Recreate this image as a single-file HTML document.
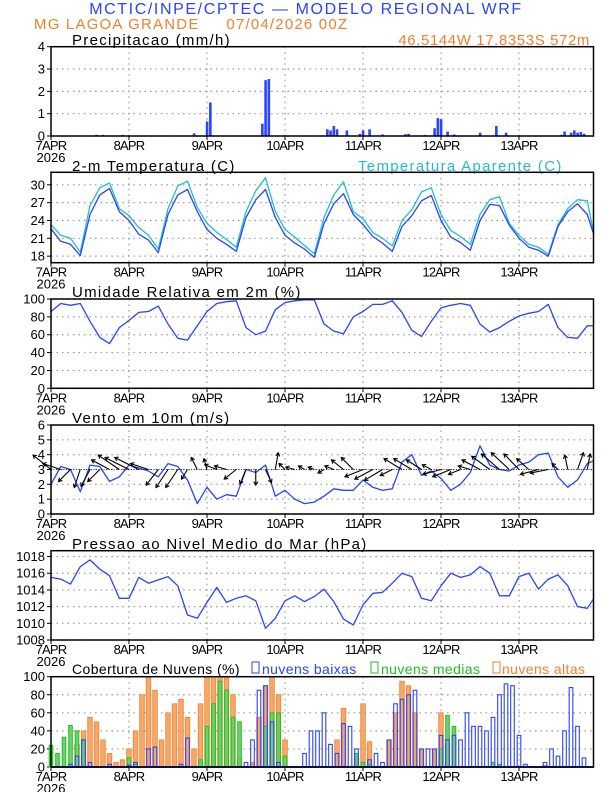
<!DOCTYPE html>
<html><head><meta charset="utf-8"><style>
body{margin:0;background:#fff;}
svg{display:block;font-family:"Liberation Sans",sans-serif;}
.tt{font-size:15px;letter-spacing:1.3px;}
.lg{font-size:14px;letter-spacing:0.4px;}
</style></head><body>
<svg id="chart" width="612" height="792" viewBox="0 0 612 792" xmlns="http://www.w3.org/2000/svg">
<text x="306" y="14" text-anchor="middle" font-size="16" letter-spacing="1.6" fill="#2a44ff">MCTIC/INPE/CPTEC — MODELO REGIONAL WRF</text>
<text x="34" y="29" font-size="15" letter-spacing="1.2" fill="#f08030" xml:space="preserve">MG LAGOA GRANDE     07/04/2026 00Z</text>
<text x="590" y="45" text-anchor="end" font-size="15" letter-spacing="0.6" fill="#f08030">46.5144W 17.8353S 572m</text>
<text class="tt" x="72" y="45">Precipitacao (mm/h)</text>
<text class="tt" x="72" y="171">2-m Temperatura (C)</text>
<text class="tt" x="358" y="171" fill="#20c0c8">Temperatura Aparente (C)</text>
<text class="tt" x="72" y="297">Umidade Relativa em 2m (%)</text>
<text class="tt" x="72" y="423">Vento em 10m (m/s)</text>
<text class="tt" x="72" y="549">Pressao ao Nivel Medio do Mar (hPa)</text>
<text class="lg" x="72" y="674" letter-spacing="0.5">Cobertura de Nuvens (%)</text>
<rect x="252" y="662" width="7" height="11" fill="none" stroke="#2a44ff"/>
<text class="lg" x="262" y="674" fill="#2a44ff">nuvens baixas</text>
<rect x="371" y="662" width="7" height="11" fill="none" stroke="#20c020"/>
<text class="lg" x="381" y="674" fill="#20c020">nuvens medias</text>
<rect x="493" y="662" width="7" height="11" fill="none" stroke="#f08030"/>
<text class="lg" x="502" y="674" fill="#f08030">nuvens altas</text>
</svg>
<script>
const dayLabels=["7APR","8APR","9APR","10APR","11APR","12APR","13APR"];
const hours3=[0,3,6,9,12,15,18,21,24,27,30,33,36,39,42,45,48,51,54,57,60,63,66,69,72,75,78,81,84,87,90,93,96,99,102,105,108,111,114,117,120,123,126,129,132,135,138,141,144,147,150,153,156,159,162,165,167];
const precipHours=[14,16,22,44,48,49,65,66,67,85,86,87,88,91,95,96,98,102,109,110,115,118,119,120,122,124,132,137,140,157,158,160,161,162,163,164];
const precipVals=[0.05,0.05,0.05,0.12,0.65,1.5,0.55,2.5,2.55,0.3,0.25,0.45,0.3,0.25,0.1,0.25,0.3,0.07,0.08,0.1,0.05,0.35,0.8,0.75,0.2,0.07,0.15,0.45,0.15,0.05,0.2,0.15,0.25,0.15,0.18,0.1];
const tempVals=[22.6,20.5,20.0,18.1,25.0,28.3,29.4,25.5,24.0,21.7,20.7,18.6,25.0,28.3,29.2,25.5,22.5,21.0,20.0,18.8,24.5,27.5,29.2,24.5,21.5,20.2,19.2,17.8,23.5,26.8,28.5,25.0,23.3,21.3,20.2,18.8,23.0,24.8,27.3,28.2,24.0,21.2,20.3,19.0,24.0,26.7,26.5,23.2,21.0,19.5,19.0,18.0,23.0,25.5,26.8,25.0,21.6];
const apparentVals=[23.3,21.5,21.0,18.7,26.5,29.5,30.3,26.0,24.8,22.8,21.5,19.2,26.0,29.8,30.6,26.2,23.5,22.0,20.8,19.5,25.5,29.0,31.2,25.5,22.5,21.2,19.8,18.4,24.5,28.3,30.5,25.5,24.3,22.0,21.0,19.7,24.0,25.8,28.8,29.5,25.0,22.3,21.3,20.0,25.0,27.5,28.0,23.5,21.5,20.0,19.5,18.3,23.3,26.0,27.5,27.3,21.8];
const rhVals=[86,95,93,95,75,57,50,68,76,85,86,92,72,56,54,70,86,95,97,98,68,60,64,88,96,98,99,99,72,64,61,80,86,94,94,98,85,65,58,75,90,93,95,93,72,63,68,75,81,84,86,94,68,57,56,70,70];
const windSpeed=[2.0,3.2,3.0,1.5,3.3,3.2,2.2,2.5,3.3,3.1,2.9,2.5,3.4,3.2,2.3,0.7,1.8,1.0,1.3,1.2,3.0,2.8,3.3,1.2,1.6,1.0,0.7,0.8,1.2,1.7,1.6,1.6,2.3,1.8,1.6,1.7,3.5,4.0,2.6,2.9,2.4,1.6,2.0,2.8,4.6,3.3,3.0,2.9,3.3,3.5,4.0,4.1,2.5,1.8,2.3,3.4,3.6];
const windU=[-3,-3,-2,-1,-1.5,-2,-3,-3.5,-4,-4,-3,-2,-2,-2,-1,-1,-0.5,-2,-2,-2,-1,0,1,0.5,-1,-1.5,-1,-1,-1,-1.5,-2,-2,-3,-3,-3,-2,-3,-3,-2.5,-1.5,-3,-3,-2,-2,-3,-3,-3,-3,-2.5,-2,-3,-3,-1,-0.5,1,0.5];
const windV=[1.2,0.5,-1,-1.5,-1.4,-1,0.8,1.2,1,1,0.5,-1.3,-1.5,-1.5,-0.8,1,0.9,0.4,0.3,-0.8,-1.2,-1.3,-1.1,1.4,0.5,0.2,0.3,0.2,-0.3,0.3,0.8,1,-0.6,-0.8,-0.9,-0.5,0.9,0.9,0.8,0.4,-0.4,-0.6,-0.4,0.3,0.8,1.1,1.3,1.4,1.3,0.9,-0.4,-0.3,0.5,1.2,1.4,1.3];
const pressVals=[1015.5,1015.3,1014.7,1016.8,1017.6,1016.5,1015.7,1013.0,1013.0,1015.5,1014.8,1015.2,1015.6,1014.5,1011.0,1010.6,1012.5,1014.3,1012.5,1013.0,1013.3,1012.7,1009.4,1010.6,1012.7,1013.3,1012.6,1013.2,1014.1,1012.6,1010.5,1009.8,1012.2,1013.6,1013.7,1014.8,1016.0,1015.6,1013.0,1012.7,1014.5,1016.0,1015.5,1015.8,1016.8,1016.0,1013.3,1013.3,1015.6,1016.0,1014.1,1015.3,1015.8,1014.5,1012.0,1011.8,1013.0];
const cloudHours=[0,2,4,6,8,10,12,14,16,18,20,22,24,26,28,30,32,34,36,38,40,42,44,46,48,50,52,54,56,58,60,62,64,66,68,70,72,74,76,78,80,82,84,86,88,90,92,94,96,98,100,102,104,106,108,110,112,114,116,118,120,122,124,126,128,130,132,134,136,138,140,142,144,146,148,150,152,154,156,158,160,162,164,166];
const cloudHigh=[0,0,0,0,25,40,55,50,30,15,5,8,20,40,80,100,85,30,60,70,75,55,20,70,100,100,100,100,80,10,0,5,55,90,100,80,30,0,0,0,0,0,0,0,30,65,0,10,70,28,0,0,30,60,95,90,60,20,0,20,60,25,0,0,0,0,0,0,0,0,0,0,0,0,0,0,2,0,0,0,0,0,0,0];
const cloudMid=[24,15,33,46,40,30,0,0,0,0,0,0,10,3,0,0,0,0,0,0,0,0,0,8,45,70,95,85,55,50,0,0,0,45,60,60,12,0,0,0,0,0,0,0,0,0,0,15,5,3,0,0,0,0,0,0,0,0,0,0,20,57,45,0,0,0,0,0,5,3,0,0,0,0,0,0,0,0,0,0,0,0,0,0];
const cloudLow=[0,0,0,3,12,30,5,0,0,3,0,0,2,5,0,20,22,0,0,0,3,32,0,0,0,0,0,0,0,0,5,30,85,90,50,5,0,0,0,15,40,40,60,25,15,48,45,20,0,8,15,5,30,70,75,80,85,20,20,20,35,30,35,30,60,45,45,40,55,80,92,90,35,3,0,0,5,20,12,40,88,45,10,0];

const NS='http://www.w3.org/2000/svg';
const svg=document.getElementById('chart');
const X0=51,X1=593.5,PX=3.25;
function x(h){return X0+h*PX;}
function mk(tag,attrs,parent){const e=document.createElementNS(NS,tag);for(const k in attrs)e.setAttribute(k,attrs[k]);(parent||svg).appendChild(e);return e;}
function yScale(p){return v=>p.bottom-(v-p.min)/(p.max-p.min)*(p.bottom-p.top);}
const panels={
 precip:{top:46.7,bottom:136,min:0,max:4,ticks:[0,1,2,3,4]},
 temp:{top:172.3,bottom:262.7,min:16.9,max:32.1,ticks:[18,21,24,27,30]},
 rh:{top:299,bottom:388.3,min:0,max:100,ticks:[0,20,40,60,80,100]},
 wind:{top:425,bottom:514,min:0,max:6,ticks:[0,1,2,3,4,5,6]},
 press:{top:550.7,bottom:640,min:1008,max:1018.7,ticks:[1008,1010,1012,1014,1016,1018]},
 cloud:{top:676.7,bottom:767,min:0,max:100,ticks:[0,20,40,60,80,100]}
};
function drawAxes(key){
 const p=panels[key],ys=yScale(p);
 const g=mk('g',{});
 
 
 p.ticks.forEach(t=>{
  const y=ys(t);
  const gl=mk('line',{x1:X0,x2:X1,y1:y,y2:y,stroke:'#999','stroke-dasharray':'1.5,4','stroke-width':1.2},g);
  
  
  const tk=mk('line',{x1:X0-4,x2:X0,y1:y,y2:y,stroke:'#000'},g);
  
  
  const tl=mk('text',{x:X0-6,y:y+4.5,'text-anchor':'end','font-size':13},g);
  tl.textContent=t;
  
  
 });
 dayLabels.forEach((d,i)=>{
  const xx=x(i*24);
  if(i>0){const vl=mk('line',{x1:xx,x2:xx,y1:p.top,y2:p.bottom,stroke:'#999','stroke-dasharray':'1.5,4','stroke-width':1.2},g);
   
   }
  const tk=mk('line',{x1:xx,x2:xx,y1:p.bottom,y2:p.bottom+4,stroke:'#000'},g);
  
  
  const tl=mk('text',{x:xx,y:p.bottom+14,'text-anchor':'middle','font-size':13,'letter-spacing':'-0.8'},g);
  tl.textContent=d;
  
  
 });
 const yr=mk('text',{x:X0,y:p.bottom+26,'text-anchor':'middle','font-size':13},g);
 yr.textContent='2026';
 
 
 return {g,ys,p};
}
function frame(key){
 const p=panels[key];
 const r=mk('rect',{x:X0,y:p.top,width:X1-X0,height:p.bottom-p.top,fill:'none',stroke:'#000','stroke-width':1.5});
 
 
}
function line(key,vals,color,name){
 const ys=yScale(panels[key]);
 const pts=vals.map((v,i)=>x(hours3[i]).toFixed(1)+','+ys(v).toFixed(1)).join(' ');
 const l=mk('polyline',{points:pts,fill:'none',stroke:color,'stroke-width':1.3,'stroke-linejoin':'round'});
 
 
}
drawAxes('precip');
(function(){const ys=yScale(panels.precip);
 precipHours.forEach((h,i)=>{const b=mk('rect',{x:x(h)-1.2,y:ys(precipVals[i]),width:2.6,height:ys(0)-ys(precipVals[i]),fill:'#2a44ff'});
  
  });})();
frame('precip');
drawAxes('temp');
line('temp',apparentVals,'#20c0c8','apparent-temp-line');
line('temp',tempVals,'#2a44ff','temp-line');
frame('temp');
drawAxes('rh');
line('rh',rhVals,'#2a44ff','rh-line');
frame('rh');
drawAxes('wind');
line('wind',windSpeed,'#2a44ff','wind-speed-line');
(function(){const ys=yScale(panels.wind);const s=6;
 windU.forEach((u,i)=>{const bx=x(hours3[i]),by=ys(3);const tx=bx+u*s,ty=by-windV[i]*s*2;
  const ang=Math.atan2(ty-by,tx-bx);const a1=ang+2.6,a2=ang-2.6;
  const d=`M${bx},${by}L${tx},${ty}M${tx+4*Math.cos(a1)},${ty+4*Math.sin(a1)}L${tx},${ty}L${tx+4*Math.cos(a2)},${ty+4*Math.sin(a2)}`;
  const a=mk('path',{d:d,stroke:'#000',fill:'none','stroke-width':1.1});
  
  });
 const hl=mk('line',{x1:X0,x2:X1,y1:ys(3),y2:ys(3),stroke:'#000','stroke-width':0.8,'stroke-dasharray':'1,1.5'});
 
 
})();
frame('wind');
drawAxes('press');
line('press',pressVals,'#2a44ff','pressure-line');
frame('press');
drawAxes('cloud');
(function(){const ys=yScale(panels.cloud);const w=4.6;
 cloudHours.forEach((h,i)=>{const v=cloudHigh[i];if(v<=0)return;
  const b=mk('rect',{x:x(h)-w/2,y:ys(v),width:w,height:ys(0)-ys(v),fill:'#f5a868',stroke:'#f08030','stroke-width':0.8});
  
  });
 cloudHours.forEach((h,i)=>{const v=cloudMid[i];if(v<=0)return;
  const b=mk('rect',{x:x(h)-w/2+0.5,y:ys(v),width:w-1,height:ys(0)-ys(v),fill:'#70d070',stroke:'#20c020','stroke-width':1});
  
  });
 cloudHours.forEach((h,i)=>{const v=cloudLow[i];if(v<=0)return;
  const b=mk('rect',{x:x(h)-w/2+0.5,y:ys(v),width:w-1,height:ys(0)-ys(v),fill:'none',stroke:'#2a44ff','stroke-width':1.1});
  
  });
 const base=mk('line',{x1:X0,x2:X1,y1:ys(0),y2:ys(0),stroke:'#2a44ff','stroke-width':2});
 
 
})();
frame('cloud');
</script>
</body></html>
